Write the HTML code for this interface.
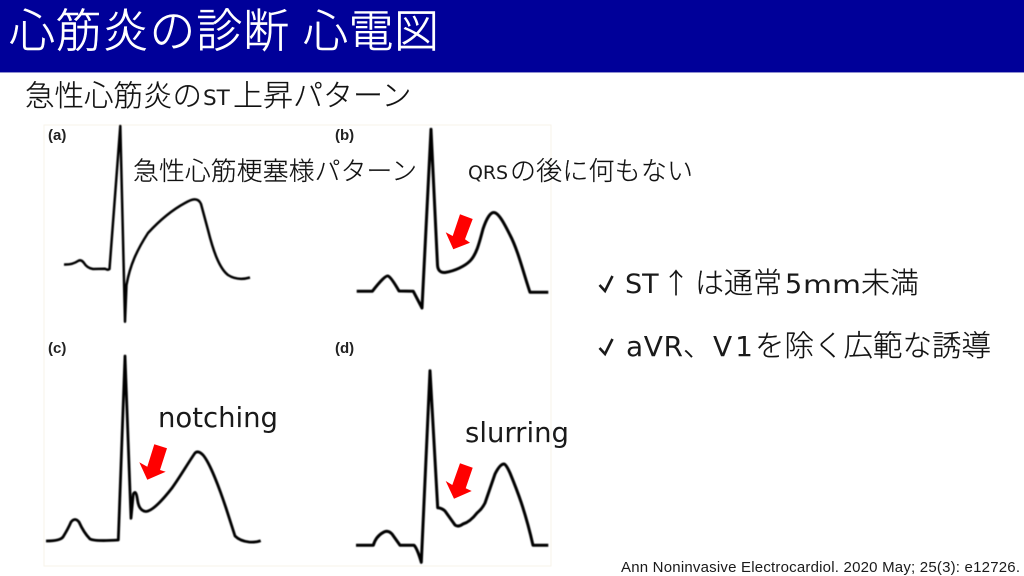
<!DOCTYPE html>
<html lang="ja"><head><meta charset="utf-8"><style>
html,body{margin:0;padding:0;background:#fff;width:1024px;height:576px;overflow:hidden}
svg{display:block}
text{font-family:"Liberation Sans","Noto Sans CJK JP",sans-serif;fill:#1a1a1a}
.m{font-family:"DejaVu Sans","Noto Sans CJK JP",sans-serif}
.j{font-family:"Noto Sans CJK JP",sans-serif;font-weight:300;fill:#111;stroke:#111;stroke-width:.2}
.t{font-family:"Noto Sans CJK JP",sans-serif;font-weight:300;fill:#fff;stroke:#fff;stroke-width:.5}
.l{font-weight:700;fill:#222}
.e{fill:none;stroke:#000;stroke-linejoin:round;stroke-linecap:butt}
</style></head><body>
<svg width="1024" height="576" viewBox="0 0 1024 576" xmlns="http://www.w3.org/2000/svg">
<defs><filter id="b" x="-5%" y="-5%" width="110%" height="110%"><feGaussianBlur stdDeviation="0.4"/></filter></defs>
<rect width="1024" height="576" fill="#fff"/>
<rect width="1024" height="72" fill="#000099"/>
<rect y="72" width="1024" height="1" fill="#8f8fd0"/>
<rect x="44" y="125" width="507" height="441" fill="#fff" stroke="#f7f3ea" stroke-width="1"/>
<text class="t" x="9" y="47" font-size="46" textLength="280">心筋炎の診断</text>
<text class="t" x="303" y="47" font-size="45" textLength="136">心電図</text>
<text class="j" x="25" y="106" font-size="29.5">急性心筋炎の</text>
<text class="m" x="203" y="105" font-size="21.5">ST</text>
<text class="j" x="233" y="106" font-size="30">上昇パターン</text>
<text class="l" x="48" y="140" font-size="15">(a)</text>
<text class="l" x="335" y="140" font-size="15">(b)</text>
<text class="l" x="48" y="353" font-size="15">(c)</text>
<text class="l" x="335" y="353" font-size="15">(d)</text>
<g filter="url(#b)">
<path class="e" stroke-width="2.5" d="M64 264.5 Q72 265 78 261 Q81 259 84 263 Q87 268 93 269 L105 268.7 Q108 270.5 109.5 269 L120.3 126 L125 321.7 L126.5 285 C130 265 137 250 148 233 C160 220 172 210 185 203 C192 199 198 197 201 204 L208 230 C213 250 219 268 228 275 C235 279.5 243 279.5 250 277.5"/>
<path class="e" stroke-width="3" d="M356.7 291.3 L372.3 291.3 Q385 275 388 276 Q391 277 399 291 L413.3 291.3 L422 308 L431 129.3 L437.5 265 Q438 273 445 272.5 C455 271 465 266 470 261 C477 254 480 240 483 229 C486 220 490 212 494 212.5 C499 213 505 225 510 235 C518 250 524 275 530 292.3 L548.3 292.3"/>
<path class="e" stroke-width="2.8" d="M46 541 Q60 541 63 537 Q68 529 71 522 Q75 517 79 522 Q84 533 90 539 Q95 541.5 118.3 540 L125 356 L131 518.3 L133.3 494 Q136 489 137.5 500 Q139 511 146 511.5 C153 511 165 497 172 488 C180 477 188 463 195 453 Q198 450 203 455 C210 463 220 490 226 508 L235 536 Q240 541 249 542 Q256 542.5 260.7 540.7"/>
<path class="e" stroke-width="3" d="M356 545.3 L373.3 545.3 Q376 536 384 532 Q388 530 392 534 L400 545.3 L414 545.3 Q417 548 421.3 562.3 L430 370.7 L437.7 507.7 Q442 508 445 511 L455 525 Q458 527.5 463 524 Q470 522 477 513 Q482 509 485 503 L495 474 Q500 464 504 464 Q506 464 510 473 C517 490 525 510 533 545.3 L548.3 545.3"/>
</g>
<polygon fill="#ff0000" points="460,214.3 472.7,219 465,239.3 470,242.7 453.3,249.3 445.7,232.3 452.7,236"/>
<polygon fill="#ff0000" points="154.3,444.3 167,448.3 160,470 165.7,471.7 147.3,479.7 139.3,462.3 147.3,466.7"/>
<polygon fill="#ff0000" points="460,463.3 472.7,467.7 465.7,488.3 471.7,491 454,498.7 445.7,481 452.3,485"/>
<text class="j" x="133" y="180" font-size="25.8" textLength="284">急性心筋梗塞様パターン</text>
<text class="m" x="468" y="179" font-size="19" textLength="40">QRS</text>
<text class="j" x="510" y="180" font-size="26" textLength="183">の後に何もない</text>
<text class="m" x="158" y="427" font-size="27.5" textLength="120">notching</text>
<text class="m" x="465" y="442" font-size="27.5" textLength="104">slurring</text>
<path d="M599.5 285 L605 291 L612.5 276" fill="none" stroke="#1a1a1a" stroke-width="2.6"/>
<path d="M599.5 348 L605 354 L612.5 339" fill="none" stroke="#1a1a1a" stroke-width="2.6"/>
<text class="m" x="625" y="293" font-size="27">ST</text>
<text class="j" x="662" y="293" font-size="28">↑</text>
<text class="j" x="695" y="293" font-size="29">は通常</text>
<text class="m" x="785" y="293" font-size="27">5</text>
<text class="m" x="803" y="293" font-size="25" textLength="58" lengthAdjust="spacingAndGlyphs">mm</text>
<text class="j" x="861" y="293" font-size="29">未満</text>
<text class="m" x="626" y="356" font-size="28" textLength="57">aVR</text>
<text class="j" x="683" y="356" font-size="29">、</text>
<text class="m" x="713" y="356" font-size="28" textLength="40">V1</text>
<text class="j" x="755" y="356" font-size="29.5">を除く広範な誘導</text>
<text x="621" y="572" font-size="15" textLength="399">Ann Noninvasive Electrocardiol. 2020 May; 25(3): e12726.</text>
</svg>
</body></html>
